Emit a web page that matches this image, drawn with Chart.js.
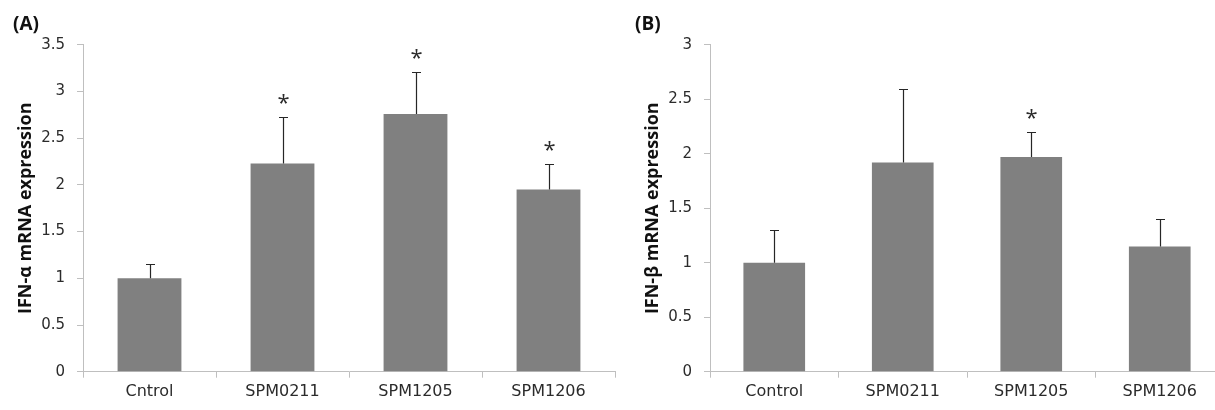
<!DOCTYPE html>
<html>
<head>
<meta charset="utf-8">
<script src="https://cdn.jsdelivr.net/npm/chart.js@4/dist/chart.umd.min.js"></script>
<style>
  html, body { margin: 0; padding: 0; background: #fff; overflow: hidden; width: 1215px; height: 410px; }
  .panel { position: absolute; top: 0; }
</style>
</head>
<body>
<div class="panel" style="left:0px;"><canvas id="chartA" width="620" height="410"></canvas></div>
<div class="panel" style="left:627px;"><canvas id="chartB" width="603" height="410"></canvas></div>
<script>
// ---- Data ----
const categoriesA = ['Cntrol', 'SPM0211', 'SPM1205', 'SPM1206'];
const valuesA = [1.00, 2.23, 2.76, 1.95];
const errorsA = [0.15, 0.50, 0.45, 0.27];
const starsA = [false, true, true, true];
const yTicksA = { min: 0, max: 3.5, step: 0.5 };
const yTitleA = 'IFN-α mRNA expression';
const panelA = '(A)';

const categoriesB = ['Control', 'SPM0211', 'SPM1205', 'SPM1206'];
const valuesB = [1.00, 1.92, 1.97, 1.15];
const errorsB = [0.30, 0.67, 0.23, 0.25];
const starsB = [false, false, true, false];
const yTicksB = { min: 0, max: 3, step: 0.5 };
const yTitleB = 'IFN-β mRNA expression';
const panelB = '(B)';

const FONT = "'Open Sans', 'Noto Sans', sans-serif";
const TICKFONT = "'DejaVu Sans', 'Open Sans', sans-serif";
const TEXT = '#2b2b2b';
const AXIS = '#bfbfbf';

const errorBarPlugin = {
  id: 'errbars',
  afterDatasetsDraw(chart, args, opts) {
    const { ctx } = chart;
    const y = chart.scales.y;
    const meta = chart.getDatasetMeta(0);
    const vals = chart.data.datasets[0].data;
    ctx.save();
    ctx.strokeStyle = '#262626';
    ctx.lineWidth = 1.2;
    ctx.fillStyle = TEXT;
    ctx.font = '22px ' + FONT;
    ctx.textAlign = 'center';
    ctx.textBaseline = 'alphabetic';
    meta.data.forEach((bar, i) => {
      const xc = Math.round(bar.x) + 0.5;
      const yTop = y.getPixelForValue(vals[i]);
      const yErr = Math.round(y.getPixelForValue(vals[i] + opts.errors[i])) + 0.5;
      ctx.beginPath();
      ctx.moveTo(xc, yTop);
      ctx.lineTo(xc, yErr);
      ctx.moveTo(xc - 4.5, yErr);
      ctx.lineTo(xc + 4.5, yErr);
      ctx.stroke();
      if (opts.stars[i]) {
        ctx.fillText('*', xc, yErr - 8);
      }
    });
    ctx.restore();
  }
};

function makeChart(id, cats, vals, errs, stars, yt, ytitle, ptitle, padLeft, yWidth, padRight, titlePadTop) {
  return new Chart(document.getElementById(id), {
    type: 'bar',
    data: {
      labels: cats,
      datasets: [{
        data: vals,
        backgroundColor: '#808080',
        borderWidth: 0,
        barPercentage: 0.48,
        categoryPercentage: 1.0
      }]
    },
    options: {
      responsive: false,
      animation: false,
      devicePixelRatio: 1,
      layout: { padding: { left: padLeft, top: 13, right: padRight, bottom: 0 } },
      plugins: {
        legend: { display: false },
        tooltip: { enabled: false },
        title: {
          display: true,
          text: ptitle,
          align: 'start',
          color: '#111',
          font: { family: FONT, size: 19, weight: 'bold' },
          padding: { top: 0, bottom: 9 }
        },
        errbars: { errors: errs, stars: stars }
      },
      scales: {
        x: {
          afterFit: s => { s.height = 38.3; },
          grid: { display: true, drawOnChartArea: false, drawTicks: true, tickLength: 6, color: AXIS, offset: true },
          border: { color: AXIS, width: 1 },
          ticks: { color: TEXT, font: { family: TICKFONT, size: 16 }, padding: 5, maxRotation: 0, autoSkip: false }
        },
        y: {
          min: yt.min,
          max: yt.max,
          afterFit: s => { s.width = yWidth; },
          grid: { display: true, drawOnChartArea: false, drawTicks: true, tickLength: 6, color: AXIS },
          border: { color: AXIS, width: 1 },
          ticks: {
            stepSize: yt.step, color: TEXT, font: { family: TICKFONT, size: 15 }, padding: 12,
            callback: v => String(Math.round(v * 10) / 10)
          },
          title: {
            display: true,
            text: ytitle,
            color: '#111',
            font: { family: FONT, size: 18, weight: 'bold' },
            padding: { top: titlePadTop, bottom: 0 }
          }
        }
      }
    },
    plugins: [errorBarPlugin]
  });
}

makeChart('chartA', categoriesA, valuesA, errorsA, starsA, yTicksA, yTitleA, panelA, 13, 70, 5, 2);
makeChart('chartB', categoriesB, valuesB, errorsB, starsB, yTicksB, yTitleB, panelB, 8, 75, 6, 7);
</script>
</body>
</html>
